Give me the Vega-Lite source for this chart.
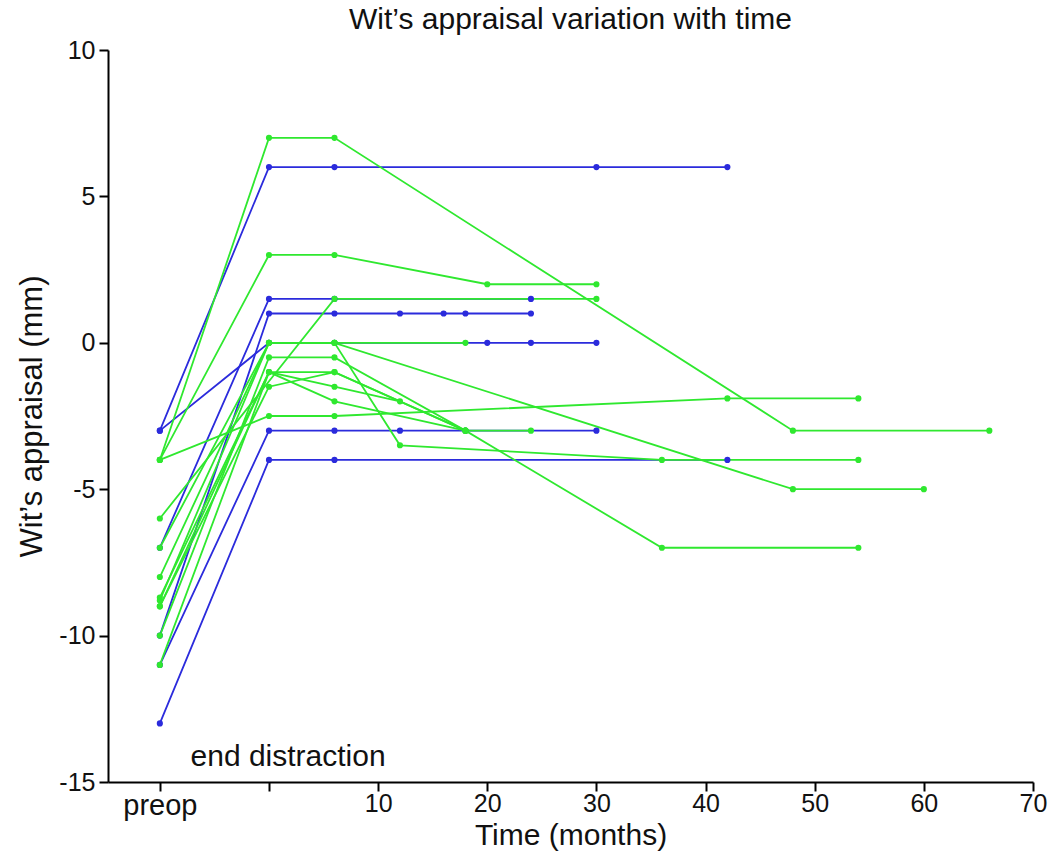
{
  "$schema": "https://vega.github.io/schema/vega-lite/v6.json",
  "width": 925,
  "height": 732,
  "autosize": {"type": "none"},
  "padding": {"left": 108, "top": 50, "right": 27, "bottom": 78},
  "background": "white",
  "config": {"view": {"stroke": null}, "font": "Liberation Sans"},
  "title": {"text": "Wit’s appraisal variation with time", "fontSize": 30, "fontWeight": "normal", "color": "#111111", "offset": 3, "anchor": "middle"},
  "datasets": {
    "series": [
      {"id": "B1", "g": "blue", "t": -10, "v": -3}, {"id": "B1", "g": "blue", "t": 0, "v": 6}, {"id": "B1", "g": "blue", "t": 6, "v": 6}, {"id": "B1", "g": "blue", "t": 30, "v": 6}, {"id": "B1", "g": "blue", "t": 42, "v": 6},
      {"id": "B2", "g": "blue", "t": -10, "v": -3}, {"id": "B2", "g": "blue", "t": 0, "v": 0}, {"id": "B2", "g": "blue", "t": 6, "v": 0}, {"id": "B2", "g": "blue", "t": 20, "v": 0}, {"id": "B2", "g": "blue", "t": 24, "v": 0}, {"id": "B2", "g": "blue", "t": 30, "v": 0},
      {"id": "B3", "g": "blue", "t": -10, "v": -7}, {"id": "B3", "g": "blue", "t": 0, "v": 1.5}, {"id": "B3", "g": "blue", "t": 6, "v": 1.5}, {"id": "B3", "g": "blue", "t": 24, "v": 1.5},
      {"id": "B4", "g": "blue", "t": -10, "v": -10}, {"id": "B4", "g": "blue", "t": 0, "v": 1}, {"id": "B4", "g": "blue", "t": 6, "v": 1}, {"id": "B4", "g": "blue", "t": 12, "v": 1}, {"id": "B4", "g": "blue", "t": 16, "v": 1}, {"id": "B4", "g": "blue", "t": 18, "v": 1}, {"id": "B4", "g": "blue", "t": 24, "v": 1},
      {"id": "B5", "g": "blue", "t": -10, "v": -11}, {"id": "B5", "g": "blue", "t": 0, "v": -3}, {"id": "B5", "g": "blue", "t": 6, "v": -3}, {"id": "B5", "g": "blue", "t": 12, "v": -3}, {"id": "B5", "g": "blue", "t": 18, "v": -3}, {"id": "B5", "g": "blue", "t": 30, "v": -3},
      {"id": "B6", "g": "blue", "t": -10, "v": -13}, {"id": "B6", "g": "blue", "t": 0, "v": -4}, {"id": "B6", "g": "blue", "t": 6, "v": -4}, {"id": "B6", "g": "blue", "t": 42, "v": -4},
      {"id": "G1", "g": "green", "t": -10, "v": -4}, {"id": "G1", "g": "green", "t": 0, "v": 7}, {"id": "G1", "g": "green", "t": 6, "v": 7}, {"id": "G1", "g": "green", "t": 48, "v": -3}, {"id": "G1", "g": "green", "t": 66, "v": -3},
      {"id": "G2", "g": "green", "t": -10, "v": -4}, {"id": "G2", "g": "green", "t": 0, "v": 3}, {"id": "G2", "g": "green", "t": 6, "v": 3}, {"id": "G2", "g": "green", "t": 20, "v": 2}, {"id": "G2", "g": "green", "t": 30, "v": 2},
      {"id": "G3", "g": "green", "t": -10, "v": -4}, {"id": "G3", "g": "green", "t": 0, "v": -2.5}, {"id": "G3", "g": "green", "t": 6, "v": -2.5}, {"id": "G3", "g": "green", "t": 42, "v": -1.9}, {"id": "G3", "g": "green", "t": 54, "v": -1.9},
      {"id": "G4", "g": "green", "t": -10, "v": -6}, {"id": "G4", "g": "green", "t": 6, "v": 1.5}, {"id": "G4", "g": "green", "t": 30, "v": 1.5},
      {"id": "G5", "g": "green", "t": -10, "v": -8}, {"id": "G5", "g": "green", "t": 0, "v": 0}, {"id": "G5", "g": "green", "t": 6, "v": 0}, {"id": "G5", "g": "green", "t": 48, "v": -5}, {"id": "G5", "g": "green", "t": 60, "v": -5},
      {"id": "G6", "g": "green", "t": -10, "v": -7}, {"id": "G6", "g": "green", "t": 0, "v": 0}, {"id": "G6", "g": "green", "t": 6, "v": 0}, {"id": "G6", "g": "green", "t": 12, "v": -3.5}, {"id": "G6", "g": "green", "t": 36, "v": -4}, {"id": "G6", "g": "green", "t": 54, "v": -4},
      {"id": "G7", "g": "green", "t": -10, "v": -9}, {"id": "G7", "g": "green", "t": 0, "v": -1}, {"id": "G7", "g": "green", "t": 6, "v": -1}, {"id": "G7", "g": "green", "t": 18, "v": -3}, {"id": "G7", "g": "green", "t": 36, "v": -7}, {"id": "G7", "g": "green", "t": 54, "v": -7},
      {"id": "G8", "g": "green", "t": -10, "v": -10}, {"id": "G8", "g": "green", "t": 0, "v": -0.5}, {"id": "G8", "g": "green", "t": 6, "v": -0.5}, {"id": "G8", "g": "green", "t": 18, "v": -3}, {"id": "G8", "g": "green", "t": 24, "v": -3},
      {"id": "G9", "g": "green", "t": -10, "v": -8.7}, {"id": "G9", "g": "green", "t": 0, "v": -1}, {"id": "G9", "g": "green", "t": 6, "v": -1.5}, {"id": "G9", "g": "green", "t": 12, "v": -2},
      {"id": "G10", "g": "green", "t": -10, "v": -11}, {"id": "G10", "g": "green", "t": 0, "v": -1}, {"id": "G10", "g": "green", "t": 6, "v": -2}, {"id": "G10", "g": "green", "t": 18, "v": -3},
      {"id": "G11", "g": "green", "t": -10, "v": -8.8}, {"id": "G11", "g": "green", "t": 0, "v": 0}, {"id": "G11", "g": "green", "t": 6, "v": 0}, {"id": "G11", "g": "green", "t": 18, "v": 0},
      {"id": "G12", "g": "green", "t": -10, "v": -9}, {"id": "G12", "g": "green", "t": 0, "v": -1.5}, {"id": "G12", "g": "green", "t": 6, "v": -1}, {"id": "G12", "g": "green", "t": 18, "v": -3}
    ]
  },
  "layer": [
    {
      "data": {"name": "series"},
      "mark": {"type": "line", "strokeWidth": 1.8, "point": {"filled": true, "size": 38, "opacity": 1}},
      "encoding": {
        "x": {
          "field": "t", "type": "quantitative",
          "scale": {"domain": [-14.75, 70], "nice": false, "zero": false},
          "axis": {
            "values": [-10, 0, 10, 20, 30, 40, 50, 60, 70],
            "labelExpr": "datum.value == -10 ? 'preop' : (datum.value == 0 ? '' : '' + datum.value)",
            "grid": false, "tickSize": 9, "tickColor": "#000000", "tickWidth": 2,
            "domainColor": "#000000", "domainWidth": 2,
            "labelFontSize": {"condition": {"test": "datum.value == -10", "value": 29}, "value": 25},
            "labelColor": "#111111", "labelPadding": 0, "labelFlush": false,
            "title": "Time (months)", "titleFontSize": 30, "titleFontWeight": "normal", "titleColor": "#111111", "titlePadding": 0,
            "encode": {"ticks": {"update": {"y2": {"value": -9}}}}
          }
        },
        "y": {
          "field": "v", "type": "quantitative",
          "scale": {"domain": [-15, 10], "nice": false, "zero": false},
          "axis": {
            "values": [-15, -10, -5, 0, 5, 10],
            "labelExpr": "'' + datum.value",
            "grid": false, "tickSize": 9, "tickColor": "#000000", "tickWidth": 2,
            "domainColor": "#000000", "domainWidth": 2,
            "labelFontSize": 25, "labelColor": "#111111", "labelPadding": 4, "labelFlush": false,
            "title": "Wit’s appraisal (mm)", "titleFontSize": 31, "titleFontWeight": "normal", "titleColor": "#111111", "titlePadding": 10,
            "encode": {"ticks": {"update": {"x2": {"value": 9}}}}
          }
        },
        "color": {"field": "g", "type": "nominal", "scale": {"domain": ["blue", "green"], "range": ["#2b2bdc", "#2fe82f"]}, "legend": null},
        "detail": {"field": "id"},
        "order": {"field": "t"}
      }
    },
    {
      "data": {"values": [{"label": "end distraction"}]},
      "mark": {"type": "text", "fontSize": 30, "font": "Liberation Sans", "align": "center", "baseline": "middle", "color": "#111111"},
      "encoding": {
        "x": {"datum": 1.75},
        "y": {"datum": -14.15},
        "text": {"field": "label"}
      }
    }
  ]
}
